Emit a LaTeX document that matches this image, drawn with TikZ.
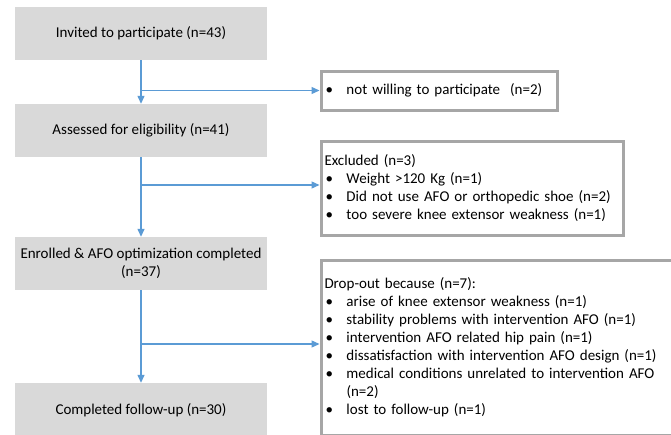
\documentclass[tikz,border=0pt]{standalone}
\usepackage{fontspec}
\setmainfont{Carlito}
\usetikzlibrary{arrows.meta}
\definecolor{boxgray}{HTML}{D9D9D9}
\definecolor{framegray}{HTML}{A6A6A6}
\definecolor{flowblue}{HTML}{5B9BD5}
\newcommand{\bl}[1]{\makebox[21pt][l]{\textbullet}#1}
\begin{document}
\begin{tikzpicture}[x=1pt,y=-1pt,
  stagebox/.style={fill=boxgray, draw=none, minimum width=252pt, align=center, inner sep=0pt,
    font=\fontsize{15}{18}\selectfont},
  sidebox/.style={draw=framegray, line width=3pt, fill=white, anchor=north west, align=left,
    inner sep=0pt, font=\fontsize{15}{18}\selectfont},
  flow/.style={draw=flowblue, line width=1.3pt},
  flowarrow/.style={flow, -{Triangle[length=8pt,width=7pt]}}]
\useasboundingbox (0,0) rectangle (671,434);
\fill[white] (0,0) rectangle (671,434);
% stage boxes
\node[stagebox, minimum height=53pt] (s1) at (141,33.5) {Invited to participate (n=43)};
\node[stagebox, minimum height=53pt] (s2) at (141,130.5) {Assessed for eligibility (n=41)};
\node[stagebox, minimum height=53pt] (s3) at (141,263.5) {Enrolled \& AFO optimization completed\\(n=37)};
\node[stagebox, minimum height=54pt] (s4) at (141,410) {Completed follow-up (n=30)};
% side boxes
\node[sidebox, minimum width=236pt, minimum height=39pt, text width=229pt] (r1) at (319.5,69.5)
  {\hspace*{1pt}\bl{not willing to participate\ \ (n=2)}};
\node[sidebox, minimum width=302pt, minimum height=94pt, text width=295pt] (r2) at (319.5,139.5)
  {Excluded (n=3)\\
   \hspace*{1pt}\bl{Weight >120 Kg (n=1)}\\
   \hspace*{1pt}\bl{Did not use AFO or orthopedic shoe (n=2)}\\
   \hspace*{1pt}\bl{too severe knee extensor weakness (n=1)}};
\node[sidebox, minimum width=352pt, minimum height=175pt, text width=345pt] (r3) at (319.5,258.5)
  {Drop-out because (n=7):\\
   \hspace*{1pt}\bl{arise of knee extensor weakness (n=1)}\\
   \hspace*{1pt}\bl{stability problems with intervention AFO (n=1)}\\
   \hspace*{1pt}\bl{intervention AFO related hip pain (n=1)}\\
   \hspace*{1pt}\bl{dissatisfaction with intervention AFO design (n=1)}\\
   \hspace*{1pt}\bl{medical conditions unrelated to intervention AFO}\\
   \hspace*{22pt}(n=2)\\
   \hspace*{1pt}\bl{lost to follow-up (n=1)}};
% branch points
\coordinate (b1) at (s1.south |- r1.west);
\coordinate (b2) at (s2.south |- 0,185);
\coordinate (b3) at (s3.south |- 0,344);
% connectors
\draw[flowarrow] (s1.south) -- (s2.north);
\draw[flowarrow] (b1) -- (r1.west);
\draw[flowarrow] (s2.south) -- (s3.north);
\draw[flowarrow] (b2) -- (b2 -| r2.west);
\draw[flowarrow] (s3.south) -- (s4.north);
\draw[flowarrow] (b3) -- (b3 -| r3.west);
\end{tikzpicture}
\end{document}
